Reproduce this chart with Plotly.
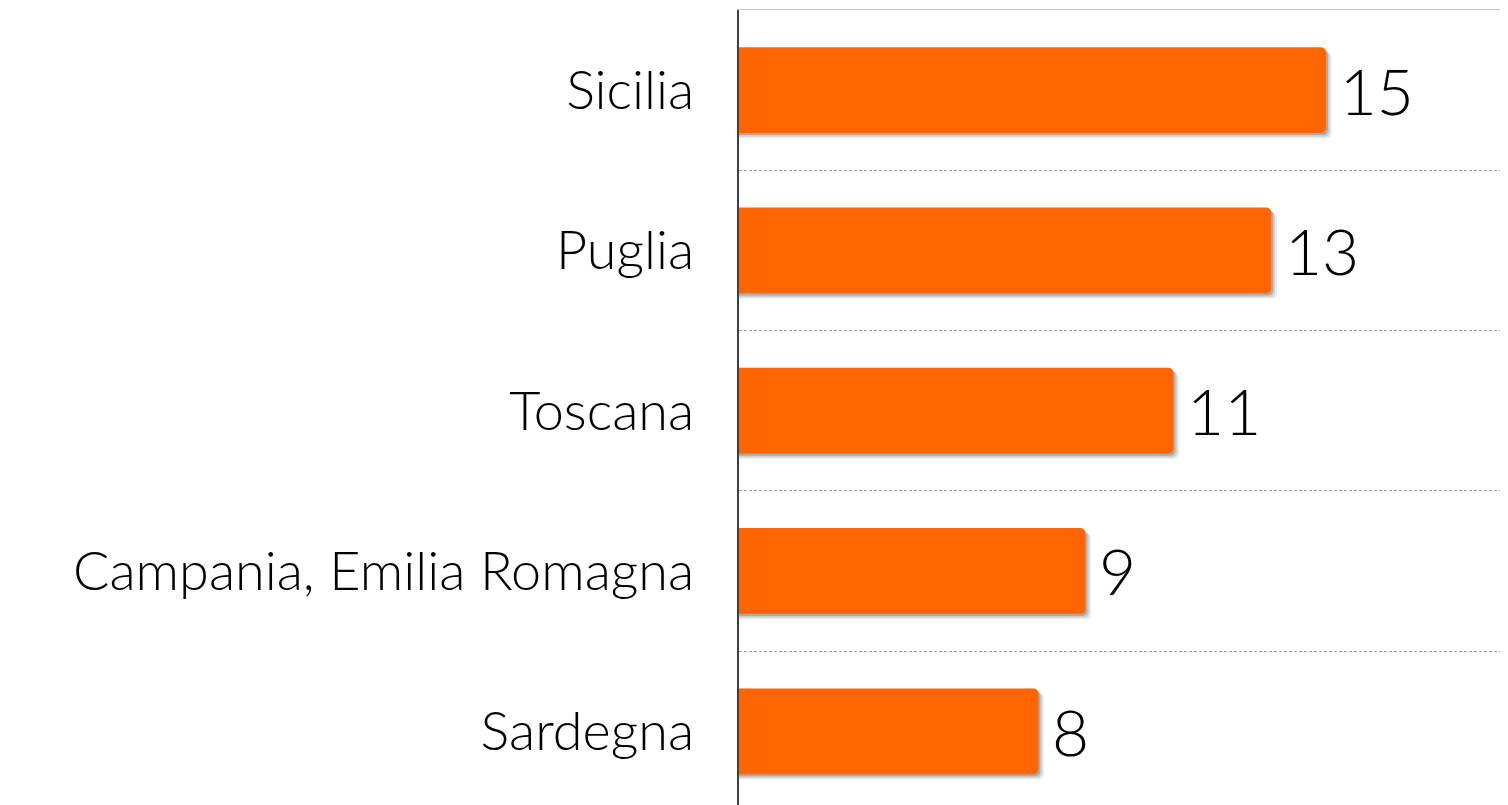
import plotly.graph_objects as go

# Data (top-to-bottom order in the picture)
regions = ["Sicilia", "Puglia", "Toscana", "Campania, Emilia Romagna", "Sardegna"]
value_labels = [15, 13, 11, 9, 8]
# bar lengths as drawn in the picture (same units as the labels)
bar_lengths = [15.0, 13.6, 11.1, 8.85, 7.65]

# plotly draws categories bottom-up, so reverse
cats = regions[::-1]
labels = value_labels[::-1]
lengths = bar_lengths[::-1]

ORANGE = "#FF6600"
FONT = "Lato"
W = 0.535

fig = go.Figure()

# soft drop shadow layers (derived from the same data)
for dx, dy, alpha in [(0.15, 0.034, 0.07), (0.10, 0.024, 0.12), (0.05, 0.013, 0.18)]:
    fig.add_trace(go.Bar(
        y=cats, x=[v + dx for v in lengths], orientation="h",
        width=W, offset=-W / 2 - dy,
        marker=dict(color=f"rgba(0,0,0,{alpha})", line=dict(width=0)),
        hoverinfo="skip", showlegend=False,
    ))

fig.add_trace(go.Bar(
    y=cats, x=lengths, orientation="h",
    width=W, offset=-W / 2,
    marker=dict(color=ORANGE, line=dict(width=0)),
    text=["\u2006" + str(v) for v in labels],
    textposition="outside",
    textfont=dict(family=FONT, size=64, color="#000000", weight=300),
    constraintext="none",
    cliponaxis=False,
    showlegend=False,
))

fig.update_layout(
    width=1500, height=797,
    margin=dict(l=731, r=0, t=2, b=0),
    paper_bgcolor="white", plot_bgcolor="white",
    barmode="overlay",
    barcornerradius=5,
    showlegend=False,
    font=dict(family=FONT, color="#000000"),
    xaxis=dict(
        range=[0, 19.65], side="top",
        showgrid=False, zeroline=False, showticklabels=False, ticks="",
        showline=True, linecolor="#C8C8C8", linewidth=1,
    ),
    yaxis=dict(
        type="category", categoryorder="array", categoryarray=cats,
        range=[-0.46, 4.5],
        tickson="boundaries", ticks="",
        showgrid=True, griddash="3px,2px", gridcolor="#A0A0A0", gridwidth=1,
        showline=True, linecolor="#404040", linewidth=2,
        tickfont=dict(family=FONT, size=54, color="#000000", weight=300),
        ticklabelstandoff=32,
    ),
)

fig.write_html("out.html")
